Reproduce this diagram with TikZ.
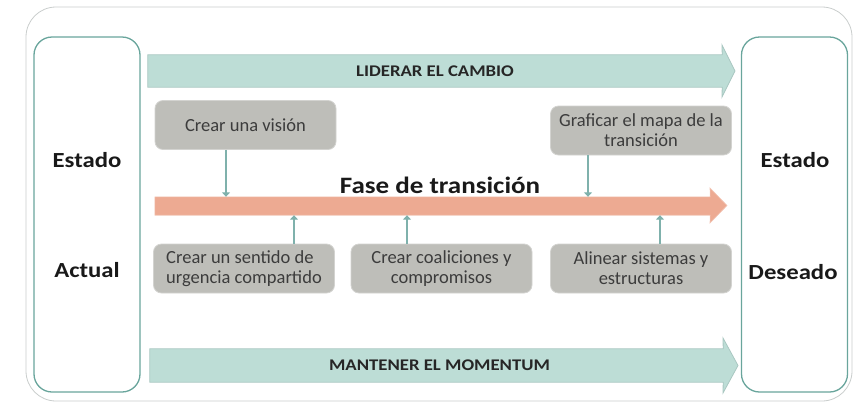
\documentclass[tikz,border=0pt]{standalone}
\usepackage{fontspec}
\setmainfont{Carlito}[BoldFeatures={FakeStretch=1.15}]
\usetikzlibrary{arrows.meta,calc}
\definecolor{frame}{HTML}{C9CDCC}
\definecolor{teal}{HTML}{69A59C}
\definecolor{tealfill}{HTML}{BDDDD6}
\definecolor{tealedge}{HTML}{A9C7C1}
\definecolor{salmon}{HTML}{EDAA92}
\definecolor{salmonedge}{HTML}{F2C6B5}
\definecolor{grayfill}{HTML}{BEBEB9}
\definecolor{grayedge}{HTML}{D3D3D0}
\definecolor{conncol}{HTML}{7FB1AC}
\definecolor{darktext}{HTML}{3C3C3C}
\begin{document}
\begin{tikzpicture}[x=1pt,y=-1pt,
  statebox/.style={draw=teal,line width=1.3pt,rounded corners=18pt,fill=white,minimum width=106pt,minimum height=355pt,inner sep=0pt},
  statetext/.style={font=\fontsize{21.5}{25}\selectfont\bfseries,text=black!90,inner sep=0pt},
  graybox/.style={draw=grayedge,line width=0.8pt,fill=grayfill,rounded corners=8pt,minimum width=181pt,minimum height=49pt,align=center,inner sep=2pt,font=\fontsize{18.5}{20}\selectfont,text=darktext},
  tealarrow/.style={fill=tealfill,draw=tealedge,line width=0.8pt},
  arrowlabel/.style={font=\fontsize{16.3}{18}\selectfont\bfseries,text=black!85,inner sep=0pt},
  conn/.style={draw=conncol,line width=1.2pt,-{Triangle[width=8pt,length=4.5pt]}},
  body/.style={draw=none,inner sep=0pt,minimum height=#1}
]
\useasboundingbox (0,0) rectangle (855,405);
% outer frame
\draw[frame,line width=0.8pt,rounded corners=30pt] (26,7) rectangle (852,401);
% state boxes
\node[statebox] (left) at (87,214.5) {};
\node[statebox] (right) at (794.5,214.5) {};
\node[statetext] (est1) at (87,160) {Estado};
\node[statetext] (act) at (87,270) {Actual};
\node[statetext] (est2) at (795,160) {Estado};
\node[statetext] (des) at (793,272) {Deseado};
% top arrow
\node[body=32pt,minimum width=574pt] (lid) at (435,71) {};
\draw[tealarrow] (lid.north west) -- (lid.north east) -- (722,45) -- (735,71) -- (722,97) -- (lid.south east) -- (lid.south west) -- cycle;
\node[arrowlabel] at (lid.center) {LIDERAR EL CAMBIO};
% bottom arrow
\node[body=33pt,minimum width=573pt] (man) at (436.5,365.5) {};
\draw[tealarrow] (man.north west) -- (man.north east) -- (723,338) -- (738,365.5) -- (723,393) -- (man.south east) -- (man.south west) -- cycle;
\node[arrowlabel] at ($(man.center)+(3,0)$) {MANTENER EL MOMENTUM};
% transition arrow
\node[body=18pt,minimum width=555pt] (trans) at (432.5,206) {};
\draw[fill=salmon,draw=salmonedge,line width=0.6pt] (trans.north west) -- (trans.north east) -- (710,188) -- (727,205.5) -- (710,223) -- (trans.south east) -- (trans.south west) -- cycle;
\node[font=\fontsize{23.5}{26}\selectfont\bfseries,text=black!90,inner sep=0pt,anchor=base] (fase) at (440,193) {Fase de transición};
% gray boxes
\node[graybox] (vis) at (245.5,125) {Crear una visión};
\node[graybox] (graf) at (641,130.5) {Graficar el mapa de la\\transición};
\node[graybox,align=left] (sent) at (244,268.5) {Crear un sentido de\\urgencia compartido};
\node[graybox] (coal) at (441.5,268.5) {Crear coaliciones y\\compromisos};
\node[graybox] (alin) at (641,268.5) {Alinear sistemas y\\estructuras};
% connectors
\coordinate (c1) at ($(vis.south)+(-19.5,0)$);
\draw[conn] (c1) -- (c1 |- trans.north);
\coordinate (c2) at ($(graf.south)+(-53,0)$);
\draw[conn] (c2) -- (c2 |- trans.north);
\coordinate (c3) at ($(sent.north)+(50,0)$);
\draw[conn] (c3) -- (c3 |- trans.south);
\coordinate (c4) at ($(coal.north)+(-34.5,0)$);
\draw[conn] (c4) -- (c4 |- trans.south);
\coordinate (c5) at ($(alin.north)+(19,0)$);
\draw[conn] (c5) -- (c5 |- trans.south);
\end{tikzpicture}
\end{document}
